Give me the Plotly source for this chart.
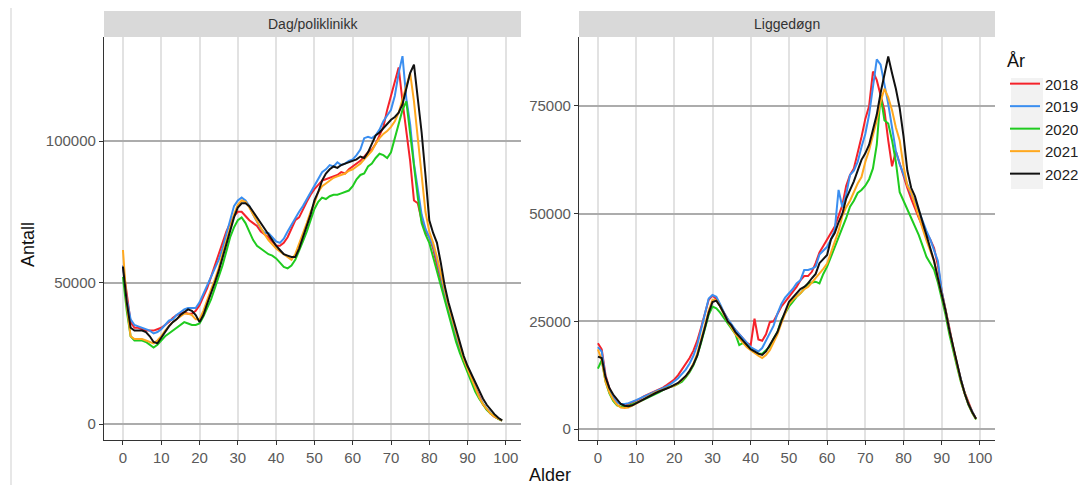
import plotly.graph_objects as go

# The page body has an 8px margin; the figure is sized to fill the rest of the window.
OFF = 8
W, H = 1086 - OFF, 485 - OFF

ages = list(range(100))
years = ["2018", "2019", "2020", "2021", "2022"]
colors = {"2018": "#F5222A", "2019": "#3A8EF0", "2020": "#1FCB1F", "2021": "#FFA81E", "2022": "#111111"}
panels = ["Dag/poliklinikk", "Liggedøgn"]

# Dag/poliklinikk (values in thousands)
dag_2018 = [56, 45, 36, 34, 34, 33.5, 33, 33, 33, 33.5,
            34, 35, 36, 37.5, 38.5, 39, 39.5, 39, 39, 40,
            42, 45, 48, 52, 56, 60, 64, 68, 71, 73.5,
            75, 75, 73.5, 72, 71, 70, 68, 67, 66, 64.5,
            63, 63, 64, 66, 69, 72, 73, 76, 78.5, 81,
            83, 84.5, 86, 86.5, 87, 87.5, 88, 89, 88.5, 90,
            91, 92, 93, 94.5, 96, 97, 99, 102, 105, 111,
            116, 121, 126, 114, 104, 93, 79, 78, 72, 68,
            66, 62, 56, 51, 46, 40, 35, 30, 26, 22,
            19, 15.5, 12.5, 9.5, 7, 5.2, 3.7, 2.6, 1.8, 1.2]
dag_2019 = [56, 44, 37, 35, 34.5, 34, 33.5, 33, 32, 32.5,
            33.5, 35, 36.5, 37, 38.5, 39.5, 40.5, 41, 41, 41,
            43, 46, 49, 52, 55, 58, 62, 67, 72, 77,
            79, 80, 79, 77, 74, 71.5, 69, 67.5, 67.5, 66,
            64.5, 64, 65.5, 68, 70.5, 73, 75, 77, 79.5, 82,
            84.5, 87, 89, 90, 91.5, 91, 92.5, 91.5, 92, 93,
            93.5, 95, 97, 101, 101.5, 101, 102, 104, 107, 109,
            111, 116, 124, 130, 115, 106, 92, 83, 74, 69,
            66, 63, 58, 52, 47, 41, 36, 31, 27, 23,
            19.5, 16, 12.5, 9.5, 7.2, 5.3, 3.8, 2.7, 1.8, 1.2]
dag_2020 = [52, 40, 31, 29.5, 29.5, 29.5, 29, 28, 27, 28,
            29.5, 31, 32, 33, 34, 35, 36, 35.5, 35, 35,
            35.5, 38, 41, 44, 48, 52, 56, 61, 66, 69.5,
            72, 73, 71, 68, 65, 63, 62, 61, 60, 59.5,
            58.5, 57, 55.5, 55, 56, 58, 61, 64.5, 68, 72,
            76, 78.5, 80, 79.5, 80.5, 81, 81, 81.5, 82, 82.5,
            84, 86.5, 88, 88.5, 91, 92, 94, 95.5, 95, 94,
            96, 101, 106, 111, 114, 103, 90, 80, 71, 67,
            64, 59, 53, 48, 43, 38, 33, 29, 25, 21.5,
            18, 14.5, 11.5, 9, 7, 5, 3.7, 2.6, 1.8, 1.2]
dag_2021 = [61.5, 42, 31, 30, 30, 30, 29.5, 29, 28.5, 29.5,
            31, 33, 34.5, 36, 37, 38, 39, 39, 38.5, 37,
            37, 40, 44, 47.5, 51, 55, 60, 65, 70, 74,
            77.5, 79, 78.5, 76.5, 74, 71.5, 69, 67, 65, 63.5,
            62, 61, 60, 59, 58, 60, 63.5, 67, 71, 75,
            78, 82, 84, 85, 86, 87, 87.5, 88, 88.5, 89.5,
            90, 91, 92, 93.5, 95, 96.5, 99, 101, 102.5, 103.5,
            105, 107, 110, 115, 120, 124, 114, 101, 88, 75,
            68, 64, 59, 53, 47, 42, 37, 32, 27, 23,
            19.5, 16, 12.5, 9.5, 7, 5.2, 3.7, 2.6, 1.8, 1.2]
dag_2022 = [55.6, 43, 34, 33, 33, 33, 32.5, 31, 29, 28.5,
            30.5, 32.5, 34.5, 36, 37, 38.5, 39.5, 40.5, 40, 38.5,
            36, 38.5, 42.5, 46, 50, 54, 59, 64, 69, 73,
            76.5, 78, 78, 77, 75, 73, 71, 69, 67, 65,
            63, 61.5, 60, 59.5, 59, 59, 62, 66, 70, 74,
            79, 82, 86, 88.5, 90, 91, 90.5, 91.5, 92, 92.5,
            93, 93.5, 94.5, 94, 96, 99, 102, 103, 104.5, 106,
            107.5, 108.5, 110, 113, 118, 124, 127, 116, 103, 88,
            72, 67.5, 64, 57, 49, 43, 38, 33, 28, 24,
            20.5, 17.5, 14.5, 11.5, 9, 6.8, 5, 3.5, 2.2, 1.3]

# Liggedøgn (values in thousands)
lig_2018 = [19.9, 18.5, 12.5, 9.5, 7.5, 6.2, 5.8, 5.6, 5.8, 6.2,
            6.6, 7.0, 7.6, 8.0, 8.4, 8.8, 9.2, 9.6, 10.2, 10.8,
            11.5, 12.5, 13.8, 15, 16.5, 18.2, 20.5, 23.5, 27, 30,
            31, 30.2, 28.5, 27, 25.5, 24, 23, 22, 21, 20,
            19.5, 25.6, 20.8, 20.5, 22, 24.8, 25, 26.8, 28.4, 29.5,
            30.7, 31.8, 33, 34.5, 35.5, 35.5, 36.5, 38.5, 41, 42.5,
            44, 45.5, 47, 49.5, 52, 56.5, 59, 60.5, 64, 67.8,
            72, 75, 83, 81, 77.5, 74, 67, 61, 64.5, 61.5,
            59, 56, 53.5, 51, 49, 47, 45.5, 44, 42, 38,
            32, 28, 23.5, 19, 15, 11.5, 8.5, 6, 4, 2.3]
lig_2019 = [19, 18, 12, 9.3, 7.3, 6.2, 5.8, 5.8, 6.0, 6.3,
            6.7, 7.1, 7.5, 7.9, 8.3, 8.6, 9.0, 9.4, 9.9, 10.4,
            11, 11.8, 12.8, 13.8, 15.2, 17, 19.5, 23, 27, 30.3,
            31.1, 30.7, 29, 27, 25.5, 24.2, 23, 22, 21, 20,
            19, 18.5, 18, 18.8, 20.5, 22.5, 24, 26.8, 29, 30.5,
            31.5, 32.5, 33.8, 34.5, 36.9, 36.9, 37.2, 37.7, 40.5, 41.5,
            42.3, 44, 46.2, 55.5, 51.5, 54.5, 59, 60, 62, 65.5,
            68.5, 73, 80, 85.8, 84.6, 80.2, 75.5, 70, 64.5, 61.5,
            59, 56.5, 54.5, 53, 50.5, 48, 46, 44, 41.5, 39,
            32, 27.5, 23, 18.8, 15, 11.5, 8.3, 5.8, 3.9, 2.3]
lig_2020 = [14, 16, 11, 8.3, 6.5, 5.5, 5.2, 5.2, 5.4, 5.7,
            6.0, 6.4, 6.8, 7.2, 7.6, 8.0, 8.5, 9.0, 9.5, 9.8,
            10.0, 10.5, 11.0, 12, 13.2, 14.8, 17, 20, 23.5, 26.5,
            28.4, 28, 27, 25.7, 24.5, 23.4, 22, 19.5, 20, 19.5,
            18.5, 17.8, 17.5, 17.5, 18.3, 19.1, 21, 22.5, 25.3, 27,
            28.4, 29.5, 30.7, 31.5, 32.5, 33.8, 34, 34.2, 33.8, 36,
            37.7, 40, 42.3, 44.5, 46.5, 49, 51.6, 53, 54.8, 55.5,
            56.5, 58, 60.5, 66, 77.5, 71.7, 70.9, 67, 62, 55,
            53, 51, 49, 47, 45, 42.5, 40, 38.5, 37, 34,
            30.5, 26.5, 22, 18, 14.5, 11, 8, 5.6, 3.7, 2.2]
lig_2021 = [18.5, 16, 11, 8.5, 6.8, 5.6, 5.0, 4.9, 5.0, 5.4,
            5.9, 6.4, 7.0, 7.5, 8.0, 8.5, 8.8, 9.1, 9.4, 9.7,
            10.1, 10.6, 11.4, 12.2, 13.5, 15.2, 17.5, 20.5, 24, 27.5,
            30, 29.9, 28.5, 26.5, 25, 23.5, 22, 21, 20, 19,
            18.3, 17.6, 17, 16.5, 17.2, 18.3, 20, 22, 24.5, 27,
            29, 30, 30.7, 31.5, 32.5, 33, 34, 35, 36, 37.2,
            38.4, 41, 43.5, 46, 49.5, 51.5, 53, 55, 57, 58.5,
            62, 64.7, 68, 71.7, 76, 79, 77, 74, 70, 67,
            61, 56.5, 55, 52, 49.5, 46.5, 43.8, 41.5, 39, 35,
            31.5, 27.5, 23, 18.8, 15, 11.3, 8.2, 5.8, 3.8, 2.3]
lig_2022 = [16.8, 16.5, 12, 9.5, 8, 6.8, 5.8, 5.4, 5.3, 5.5,
            6.0, 6.5, 7.0, 7.5, 8.0, 8.3, 8.7, 9.0, 9.4, 9.8,
            10.2, 10.7, 11.5, 12.3, 13.5, 15, 17, 20, 23.5, 27,
            29.5, 29.8, 28.5, 26.8, 25, 24, 22.5, 21.5, 20.5, 19.5,
            18.5, 18, 17.5, 17.2, 18, 19.5, 21, 22.5, 25, 27.5,
            29.5, 30.5, 31.5, 32.5, 33, 33.8, 35, 36, 38.5, 39.5,
            40.4, 44, 45.5, 48, 50, 53.5, 55.5, 57.5, 60, 62.5,
            64, 66, 69.5, 73, 78, 82, 86.5, 82.6, 79, 74.5,
            68, 60, 56, 54, 51, 48, 45.5, 42.5, 39, 35,
            31.5, 27.5, 23, 19, 15, 11.5, 8.3, 5.8, 3.9, 2.4]

dag = {"2018": dag_2018, "2019": dag_2019, "2020": dag_2020, "2021": dag_2021, "2022": dag_2022}
lig = {"2018": lig_2018, "2019": lig_2019, "2020": lig_2020, "2021": lig_2021, "2022": lig_2022}

x_ticks = list(range(0, 101, 10))
y_ticks_dag = [0, 50000, 100000]
y_ticks_lig = [0, 25000, 50000, 75000]


def px(x):
    """page x pixel -> paper fraction"""
    return (x - OFF) / W


def py(y):
    """page y pixel -> paper fraction"""
    return 1 - (y - OFF) / H


fig = go.Figure()
for yr in years:
    fig.add_trace(go.Scatter(x=ages, y=[v * 1000 for v in dag[yr]], mode="lines", name=yr,
                             line=dict(color=colors[yr], width=2), xaxis="x", yaxis="y",
                             legendgroup=yr, showlegend=True))
for yr in years:
    fig.add_trace(go.Scatter(x=ages, y=[v * 1000 for v in lig[yr]], mode="lines", name=yr,
                             line=dict(color=colors[yr], width=2), xaxis="x2", yaxis="y2",
                             legendgroup=yr, showlegend=False))

FONT = "Liberation Sans, Arial, sans-serif"
tickfont = dict(family=FONT, size=15, color="#5a5a5a")

common_x = dict(range=[-4.95, 103.95], tickvals=x_ticks, ticks="outside", ticklen=4, tickwidth=1.2,
                tickcolor="#333333", showline=True, linecolor="#333333", linewidth=1.2,
                showgrid=True, gridcolor="#e2e2e2", gridwidth=1.5, zeroline=False, tickfont=tickfont)
common_y = dict(ticks="outside", ticklen=4, tickwidth=1.2, tickcolor="#333333", showline=True,
                linecolor="#333333", linewidth=1.2, showgrid=True, gridcolor="#acacac", gridwidth=1.5,
                zeroline=False, tickfont=tickfont)

ydom = [py(440), py(37)]
fig.update_layout(
    width=W, height=H,
    margin=dict(l=0, r=0, t=0, b=0),
    paper_bgcolor="white", plot_bgcolor="white",
    font=dict(family=FONT),
    xaxis=dict(domain=[px(104), px(521)], anchor="y", **common_x),
    yaxis=dict(domain=ydom, anchor="x", range=[-5650, 136750], tickvals=y_ticks_dag,
               ticktext=[str(v) for v in y_ticks_dag], **common_y),
    xaxis2=dict(domain=[px(579), px(995)], anchor="y2", **common_x),
    yaxis2=dict(domain=ydom, anchor="x2", range=[-2554, 91015], tickvals=y_ticks_lig,
                ticktext=[str(v) for v in y_ticks_lig], **common_y),
    legend=dict(x=px(1005), y=py(44), xanchor="left", yanchor="top",
                title=dict(text="År", font=dict(family=FONT, size=18, color="#111111")),
                font=dict(family=FONT, size=15, color="#222222"), bgcolor="rgba(0,0,0,0)",
                tracegroupgap=0, itemwidth=30),
    showlegend=True,
)

shapes = [
    dict(type="rect", xref="paper", yref="paper", x0=px(104), x1=px(521), y0=py(37), y1=py(11),
         fillcolor="#d9d9d9", line=dict(width=0), layer="below"),
    dict(type="rect", xref="paper", yref="paper", x0=px(579), x1=px(995), y0=py(37), y1=py(11),
         fillcolor="#d9d9d9", line=dict(width=0), layer="below"),
    dict(type="rect", xref="paper", yref="paper", x0=px(1011), x1=px(1043), y0=py(189), y1=py(78),
         fillcolor="#f2f2f2", line=dict(width=0), layer="below"),
    dict(type="line", xref="paper", yref="paper", x0=px(11), x1=px(11), y0=0, y1=1,
         line=dict(color="#cfcfcf", width=1)),
]
fig.update_layout(shapes=shapes)

annotations = [
    dict(text=panels[0], x=px(312.5), y=py(24), xref="paper", yref="paper", showarrow=False,
         xanchor="center", yanchor="middle",
         font=dict(family=FONT, size=14, color="#333333")),
    dict(text=panels[1], x=px(787), y=py(24), xref="paper", yref="paper", showarrow=False,
         xanchor="center", yanchor="middle",
         font=dict(family=FONT, size=14, color="#333333")),
    dict(text="Antall", x=px(28), y=py(245), xref="paper", yref="paper", showarrow=False, textangle=-90,
         xanchor="center", yanchor="middle",
         font=dict(family=FONT, size=18, color="#111111")),
    dict(text="Alder", x=px(550), y=py(475), xref="paper", yref="paper", showarrow=False,
         xanchor="center", yanchor="middle",
         font=dict(family=FONT, size=18, color="#111111")),
]
fig.update_layout(annotations=annotations)

fig.write_html("out.html")
